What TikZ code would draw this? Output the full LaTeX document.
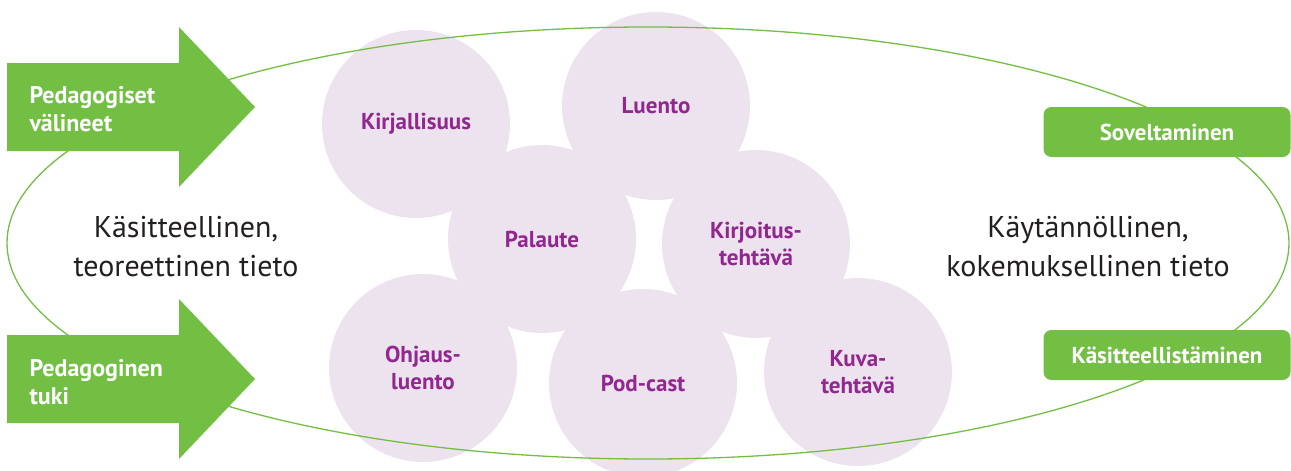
\documentclass[tikz,border=0pt]{standalone}
\usepackage{fontspec}
\setmainfont{PT Sans}
\usepackage{tikz}
\usetikzlibrary{positioning, shapes}

\definecolor{leafgreen}{RGB}{114,191,68}
\definecolor{bubblefill}{RGB}{237,227,239}
\definecolor{plum}{RGB}{145,39,143}
\definecolor{ink}{RGB}{35,31,32}

\begin{document}
\begin{tikzpicture}[x=1pt, y=-1pt,
                    bubble/.style={circle, fill=bubblefill, minimum size=188pt, inner sep=0pt,
                                   text=plum, align=center, font=\bfseries\fontsize{23}{27}\selectfont},
                    tag/.style={rectangle, rounded corners=8pt, fill=leafgreen, text=white,
                                minimum width=247pt, minimum height=50pt, font=\bfseries\fontsize{23}{27}\selectfont},
                    arrowtext/.style={anchor=west, align=left, text=white, font=\bfseries\fontsize{24}{28}\selectfont},
                    bigtext/.style={align=center, text=ink, font=\fontsize{30}{39}\selectfont}]

\useasboundingbox (0,0) rectangle (1291,471);

% Circles
\node[bubble] (kirjallisuus) at (416,124) {Kirjallisuus};
\node[bubble] (luento)       at (656,106) {Luento};
\node[bubble] (palaute)      at (542,239) {Palaute};
\node[bubble] (kirjoitus)    at (756,244) {Kirjoitus-\\tehtävä};
\node[bubble] (ohjaus)       at (423,368) {Ohjaus-\\luento};
\node[bubble] (podcast)      at (643,383) {Pod-cast};
\node[bubble] (kuva)         at (858,372) {Kuva-\\tehtävä};

% Ellipse
\draw[leafgreen, line width=1.3pt] (648,243) ellipse [x radius=641pt, y radius=216pt];

% Arrows
\fill[leafgreen] (7,63) -- (179,63) -- (179,27) -- (255,107) -- (179,187) -- (179,151) -- (7,151) -- cycle;
\fill[leafgreen] (7,335) -- (179,335) -- (179,299) -- (255,379) -- (179,459) -- (179,423) -- (7,423) -- cycle;
\node[arrowtext] (valineet) at (26,109) {Pedagogiset\\välineet};
\node[arrowtext] (tuki)     at (26,382) {Pedagoginen\\tuki};

% Boxes
\node[tag] (soveltaminen)  at (1167,132) {Soveltaminen};
\node[tag] (kasitteellist) at (1167,355) {Käsitteellistäminen};

% Texts
\node[bigtext] (teoreettinen)    at (186,247)  {Käsitteellinen,\\teoreettinen tieto};
\node[bigtext] (kokemuksellinen) at (1088,247) {Käytännöllinen,\\kokemuksellinen tieto};

\end{tikzpicture}
\end{document}
